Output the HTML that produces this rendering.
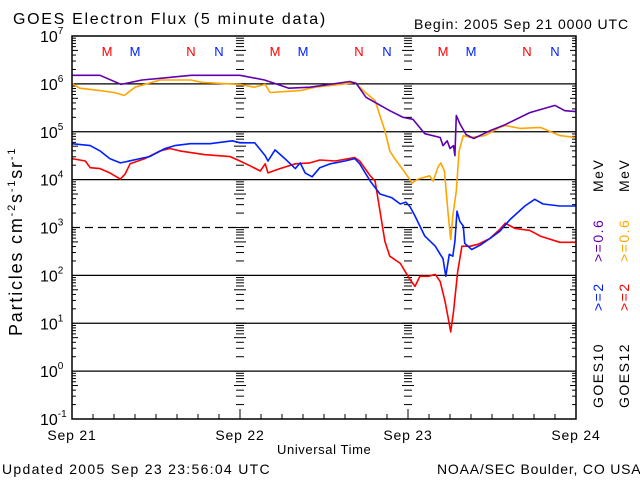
<!DOCTYPE html>
<html><head><meta charset="utf-8"><style>
body{margin:0;background:#fff;}
svg{display:block;font-family:"Liberation Sans",sans-serif;}
</style></head><body>
<svg id="chart" width="640" height="480" viewBox="0 0 640 480">
<rect width="640" height="480" fill="#fff"/>
<text x="13" y="24" font-size="16" letter-spacing="1.7">GOES Electron Flux (5 minute data)</text>
<text x="414" y="29" font-size="14" letter-spacing="0.9">Begin: 2005 Sep 21 0000 UTC</text>
<text x="2" y="474" font-size="14" letter-spacing="1.3">Updated 2005 Sep 23 23:56:04 UTC</text>
<text x="437" y="474" font-size="14" letter-spacing="0.8">NOAA/SEC Boulder, CO USA</text>
<text x="277" y="454" font-size="13" letter-spacing="0.6">Universal Time</text>
<text transform="translate(22,336) rotate(-90)" font-size="18" letter-spacing="1.8">Particles cm<tspan dy="-7" font-size="11">-2</tspan><tspan dy="7">s</tspan><tspan dy="-7" font-size="11">-1</tspan><tspan dy="7">sr</tspan><tspan dy="-7" font-size="11">-1</tspan></text>
<g id="grid"></g><g id="ticks"></g><g id="labels"></g><g id="series"></g><g id="markers"></g>
<rect x="72" y="36" width="504" height="383" fill="none" stroke="#000" stroke-width="1.5"/>
<g font-size="14" letter-spacing="1.5">
<text transform="translate(603,408) rotate(-90)">GOES10</text>
<text transform="translate(603,311) rotate(-90)" fill="#0020ff">&gt;=2</text>
<text transform="translate(603,262) rotate(-90)" fill="#6000b0">&gt;=0.6</text>
<text transform="translate(603,192) rotate(-90)">MeV</text>
<text transform="translate(629,408) rotate(-90)">GOES12</text>
<text transform="translate(629,311) rotate(-90)" fill="#ff0000">&gt;=2</text>
<text transform="translate(629,262) rotate(-90)" fill="#ffa500">&gt;=0.6</text>
<text transform="translate(629,192) rotate(-90)">MeV</text>
</g>
</svg>
<script>
const dayLabels=["Sep 21","Sep 22","Sep 23","Sep 24"];
const decadeExps=[7,6,5,4,3,2,1,0,-1];
// hours since Sep 21 00:00 ; log10 flux
const p10h=[0,4,7,10,13,17,24,27.5,31,34,39.7,40.6,42,45.4,47.3,48.7,50.4,52.6,53,53.6,54,54.5,54.7,54.9,55.4,56.3,57.4,59.7,61.9,65.4,69,70.4,72];
const p10v=[6.18,6.18,5.99,6.08,6.12,6.18,6.18,6.08,5.91,5.93,6.05,6.01,5.72,5.44,5.30,5.26,4.96,4.88,4.71,4.81,4.65,4.71,4.50,5.34,5.17,4.94,4.86,5.02,5.15,5.40,5.55,5.44,5.42];
const o12h=[0,1.1,4,6,7.5,9,12.6,17,18.6,24,26,27.6,28.3,32.6,34.7,38.3,40.4,41.9,43.3,44.7,45.4,46,47.6,48.6,49.4,51.1,51.6,52.3,52.7,53.2,53.7,54.1,54.4,54.9,55.3,55.9,56.9,59,61.1,61.9,64,66.9,69.7,72];
const o12v=[6.01,5.91,5.86,5.82,5.76,5.93,6.08,6.08,6.03,5.99,5.93,5.99,5.82,5.86,5.93,5.99,6.03,5.82,5.65,5.02,4.60,4.46,4.14,3.93,4.01,4.08,3.97,4.27,4.35,4.18,3.34,2.75,3.24,3.76,4.60,4.92,4.88,4.92,5.09,5.13,5.07,5.09,4.92,4.88];
const b10h=[0,2.6,4,5.4,6.9,7.6,9.7,11.1,13.3,14.7,16.9,19.7,22.9,24,26.1,27.6,28,29,30.4,31.9,32.6,33.3,34.3,35.4,36.9,39,40.4,41.1,42.6,44,45.7,46.9,47.7,48.3,49,50.4,51.9,52.6,53,53.4,53.9,54.4,54.7,55,55.4,55.9,56.1,57.1,58.3,59.7,61.1,62.6,64.7,66.1,67.3,69.7,72];
const b10v=[4.75,4.71,4.60,4.44,4.35,4.37,4.44,4.48,4.65,4.71,4.75,4.75,4.81,4.77,4.77,4.50,4.39,4.62,4.44,4.23,4.35,4.14,4.06,4.25,4.33,4.39,4.44,4.33,3.97,3.70,3.62,3.49,3.53,3.43,3.24,2.82,2.61,2.44,2.35,1.98,2.44,2.40,2.71,3.34,3.13,3.03,2.67,2.54,2.63,2.77,2.92,3.17,3.45,3.59,3.49,3.45,3.45];
const r12h=[0,1.9,2.6,4,5.4,6.9,7.6,8.3,10.4,12.6,14,15.4,19,22.6,24,25.4,26.9,27.6,28,29.7,31.9,34,35.4,37.6,40.4,41.1,42.6,43.3,44,44.7,45.4,46.9,48.3,49,49.7,50.9,51.9,52.6,53.3,53.7,54.1,54.5,55.1,55.7,56.9,58,59.7,61.1,61.9,63.3,65.4,66.9,69.7,72];
const r12v=[4.44,4.39,4.25,4.23,4.14,4.01,4.12,4.33,4.44,4.60,4.65,4.60,4.52,4.48,4.39,4.29,4.18,4.33,4.14,4.23,4.33,4.35,4.41,4.39,4.46,4.39,4.08,3.97,3.34,2.71,2.40,2.25,1.91,1.77,1.98,1.98,2.02,1.87,1.45,1.14,0.82,1.24,2.08,2.61,2.61,2.65,2.77,2.96,3.09,2.98,2.94,2.82,2.69,2.69];
const markerLetters=["M","M","N","N"];
const markerHours=[5,9,17,21];

const X0=72,X1=576,Y0=36,Y1=419,NS="http://www.w3.org/2000/svg";
const xs=h=>X0+(X1-X0)*h/72;
const ys=v=>Y0+(Y1-Y0)*(7-v)/8;
function mk(tag,attrs,parent,txt){const e=document.createElementNS(NS,tag);for(const k in attrs)e.setAttribute(k,attrs[k]);if(txt!==undefined)e.textContent=txt;document.getElementById(parent).appendChild(e);return e;}

decadeExps.forEach(d=>{
  if(d<7&&d>-1){
    const l=mk('line',{x1:X0,x2:X1,y1:ys(d),y2:ys(d),stroke:'#000','stroke-width':1.3,'stroke-dasharray':d===3?'8,5':'none'},'grid');
    
    
  }
  const t=mk('text',{x:40,y:ys(d)+6,'font-size':16},'labels','10');
  
  
  const s=mk('tspan',{dy:-8,'font-size':10},'labels',String(d));
  t.appendChild(s);
  if(d>-1){
    for(let m=2;m<=9;m++){
      const y=ys(d-1+Math.log10(m));
      const len=m===5?6:4;
      [[X0,X0+len],[X1-len,X1],[240-len,240+len],[408-len,408+len]].forEach(([a,b])=>{
        const tk=mk('line',{x1:a,x2:b,y1:y,y2:y,stroke:'#000','stroke-width':1},'ticks');
        
        
      });
    }
    [240,408].forEach(x=>{
      const tk=mk('line',{x1:x-6,x2:x+6,y1:ys(d),y2:ys(d),stroke:'#000','stroke-width':1},'ticks');
      
      
    });
  }
});
for(let h=3;h<72;h+=3){
  const len=h%24===0?10:5;
  const tk=mk('line',{x1:xs(h),x2:xs(h),y1:Y1-len,y2:Y1,stroke:'#000','stroke-width':1},'ticks');
  
  
}
dayLabels.forEach((lab,i)=>{
  const t=mk('text',{x:xs(i*24),y:440,'font-size':14,'text-anchor':'middle','letter-spacing':0.8},'labels',lab);
  
  
});
for(let day=0;day<3;day++){
  markerLetters.forEach((L,i)=>{
    const t=mk('text',{x:xs(day*24+markerHours[i]),y:56,'font-size':13,'text-anchor':'middle',fill:i%2===0?'#ff0000':'#0020ff'},'markers',L);
    
    
  });
}
function series(h,v,color,name){
  let d='';
  h.forEach((hh,i)=>{d+=(i?'L':'M')+xs(hh).toFixed(1)+','+ys(v[i]).toFixed(1);});
  const p=mk('path',{d:d,fill:'none',stroke:color,'stroke-width':1.6,'stroke-linejoin':'round'},'series');
  
  
}
series(o12h,o12v,'#ffa500','series-goes12-ge0.6');
series(p10h,p10v,'#6000b0','series-goes10-ge0.6');
series(r12h,r12v,'#ff0000','series-goes12-ge2');
series(b10h,b10v,'#0020ff','series-goes10-ge2');
</script>
</body></html>
